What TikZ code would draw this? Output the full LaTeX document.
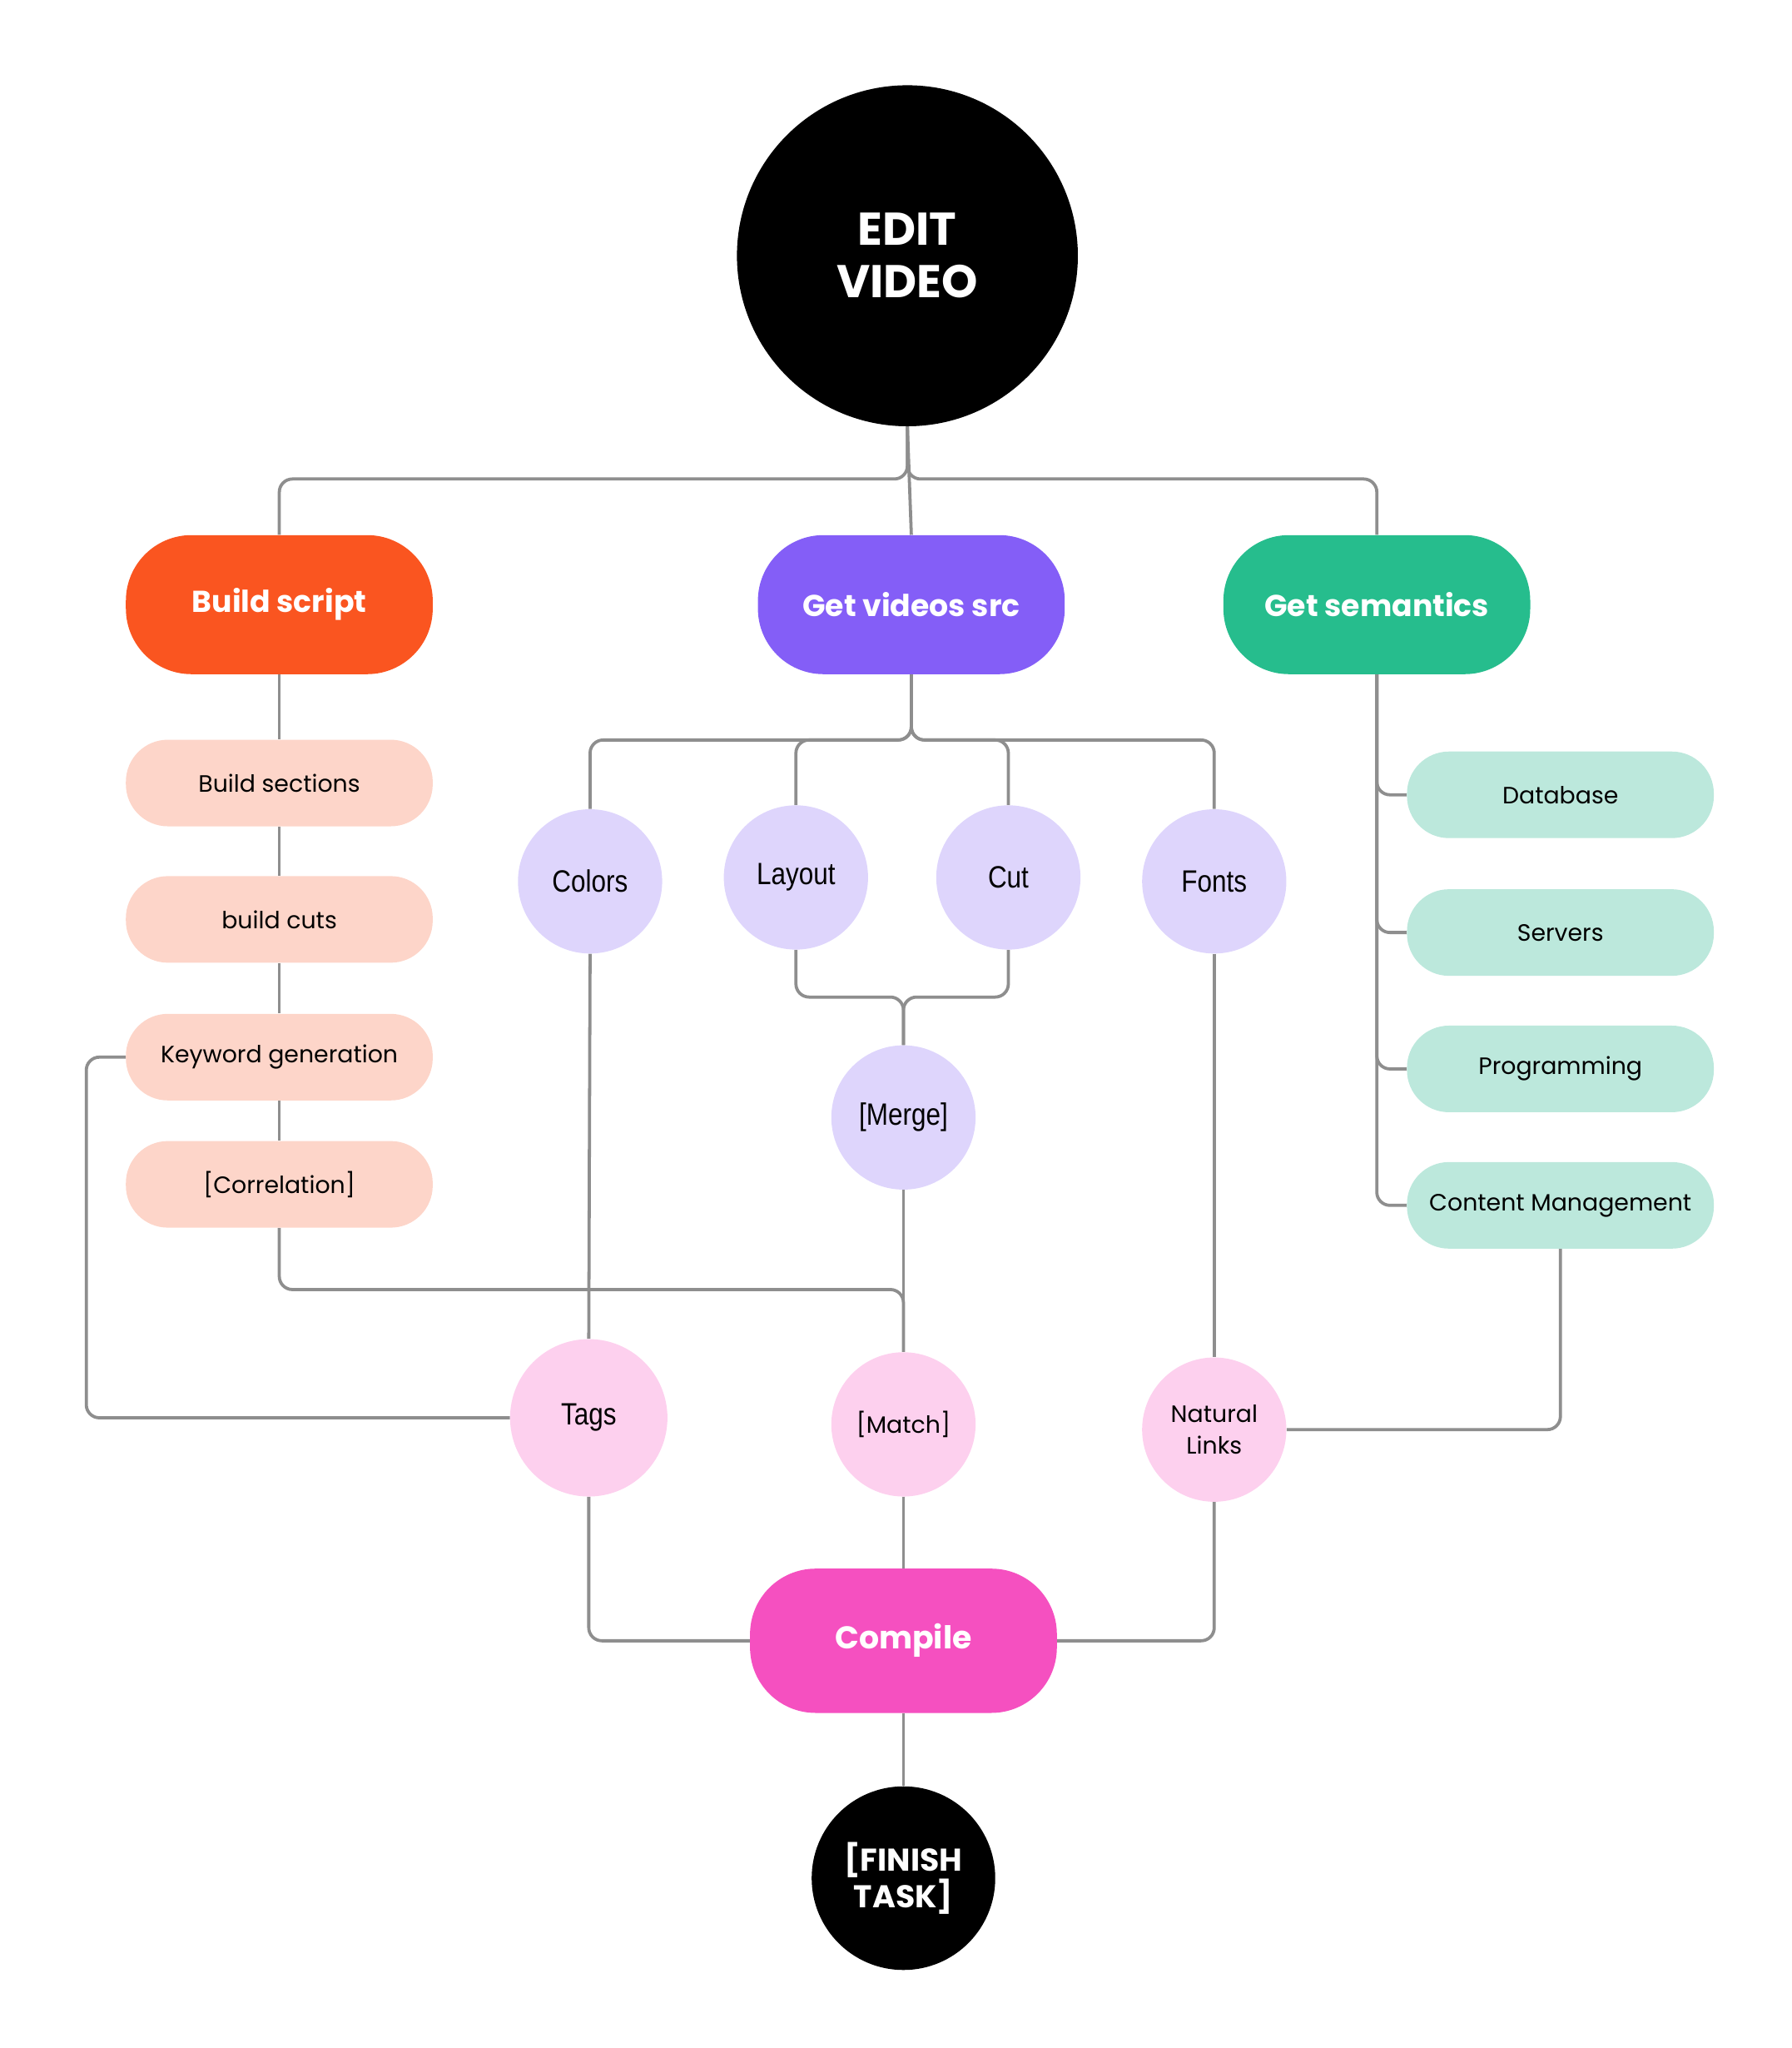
\documentclass[tikz,border=0pt]{standalone}
\usepackage{fontspec}
\setmainfont{Poppins}
\newfontfamily\narrowfont[FakeStretch=0.85]{Liberation Sans}
\usetikzlibrary{backgrounds}
\definecolor{linegray}{HTML}{8E8E8E}
\definecolor{orangeM}{HTML}{FA5520}
\definecolor{purpleM}{HTML}{845EF7}
\definecolor{greenM}{HTML}{26BD8D}
\definecolor{peachL}{HTML}{FDD5C9}
\definecolor{lavL}{HTML}{DED5FC}
\definecolor{mintL}{HTML}{BCE8DC}
\definecolor{pinkL}{HTML}{FDD0EE}
\definecolor{magM}{HTML}{F550C0}
\tikzset{
  conn/.style={draw=linegray, line width=2.4pt, rounded corners=10pt},
  bigpill/.style={rectangle, rounded corners=50pt, minimum width=234pt, minimum height=106pt, inner sep=0pt, text=white, font=\fontsize{23}{26}\selectfont\bfseries},
  smallpill/.style={rectangle, rounded corners=32pt, minimum width=234pt, minimum height=66pt, inner sep=0pt, text=black, font=\fontsize{18}{22}\selectfont},
  circnarrow/.style={circle, minimum size=110pt, inner sep=0pt, text=black, font=\narrowfont\fontsize{23.5}{26}\selectfont},
  circwide/.style={circle, minimum size=110pt, inner sep=0pt, text=black, align=center, font=\fontsize{18}{24}\selectfont},
  blackcirc/.style={circle, fill=black, inner sep=0pt, text=white, align=center}
}
\begin{document}
\begin{tikzpicture}[x=1pt, y=-1pt]
\useasboundingbox (0,0) rectangle (1366,1561.5);
% top node
\node[blackcirc, minimum size=260pt, font=\fontsize{35}{40}\selectfont\bfseries] (edit) at (692,195) {EDIT\\VIDEO};
% main pills
\node[bigpill, fill=orangeM] (build) at (213,461) {Build script};
\node[bigpill, fill=purpleM] (vid) at (695,461) {Get videos src};
\node[bigpill, fill=greenM] (sem) at (1050,461) {Get semantics};
% build script column
\node[smallpill, fill=peachL] (bsec) at (213,597) {Build sections};
\node[smallpill, fill=peachL] (bcuts) at (213,701) {build cuts};
\node[smallpill, fill=peachL] (kw) at (213,806) {Keyword generation};
\node[smallpill, fill=peachL] (corr) at (213,903) {[Correlation]};
% video circles
\node[circnarrow, fill=lavL] (colors) at (450,672) {Colors};
\node[circnarrow, fill=lavL] (layout) at (607,669) {Layout};
\node[circnarrow, fill=lavL] (cut) at (769,669) {Cut};
\node[circnarrow, fill=lavL] (fonts) at (926,672) {Fonts};
\node[circnarrow, fill=lavL] (merge) at (689,852) {[Merge]};
% semantics column
\node[smallpill, fill=mintL] (db) at (1190,606) {Database};
\node[smallpill, fill=mintL] (srv) at (1190,711) {Servers};
\node[smallpill, fill=mintL] (prog) at (1190,815) {Programming};
\node[smallpill, fill=mintL] (cm) at (1190,919) {Content Management};
% lower circles
\node[circnarrow, fill=pinkL, minimum size=120pt] (tags) at (449,1081) {Tags};
\node[circwide, fill=pinkL] (match) at (689,1086) {[Match]};
\node[circwide, fill=pinkL] (natural) at (926,1090) {Natural\\Links};
% compile & finish
\node[bigpill, fill=magM, minimum height=110pt, font=\fontsize{24}{28}\selectfont\bfseries] (compile) at (689,1251) {Compile};
\node[blackcirc, minimum size=140pt, font=\fontsize{24}{28}\selectfont\bfseries] (finish) at (689,1432) {[FINISH\\TASK]};

\begin{pgfonlayer}{background}
% from edit
\draw[conn] (edit.south) -- ++(0,40) -| (build.north);
\draw[conn] (edit.south) -- ++(0,40) -| (sem.north);
\draw[conn] (edit.south) -- (vid.north);
% build column
\draw[conn] (build.south) -- (bsec.north);
\draw[conn] (bsec.south) -- (bcuts.north);
\draw[conn] (bcuts.south) -- (kw.north);
\draw[conn] (kw.south) -- (corr.north);
\draw[conn] (corr.south) -- ++(0,47) -| (match.north);
\draw[conn] (kw.west) -- ++(-30,0) |- (tags.west);
% video branches
\draw[conn] (vid.south) -- ++(0,50) -| (colors.north);
\draw[conn] (vid.south) -- ++(0,50) -| (layout.north);
\draw[conn] (vid.south) -- ++(0,50) -| (cut.north);
\draw[conn] (vid.south) -- ++(0,50) -| (fonts.north);
\draw[conn] (layout.south) -- ++(0,36) -| (merge.north);
\draw[conn] (cut.south) -- ++(0,36) -| (merge.north);
\draw[conn] (merge.south) -- (match.north);
\draw[conn] (colors.south) -- (tags.north);
\draw[conn] (fonts.south) -- (natural.north);
% semantics branches
\draw[conn] (sem.south) |- (db.west);
\draw[conn] (sem.south) |- (srv.west);
\draw[conn] (sem.south) |- (prog.west);
\draw[conn] (sem.south) |- (cm.west);
\draw[conn] (cm.south) |- (natural.east);
% to compile
\draw[conn] (tags.south) |- (compile.west);
\draw[conn] (match.south) -- (compile.north);
\draw[conn] (natural.south) |- (compile.east);
\draw[conn] (compile.south) -- (finish.north);
\end{pgfonlayer}
\end{tikzpicture}
\end{document}
